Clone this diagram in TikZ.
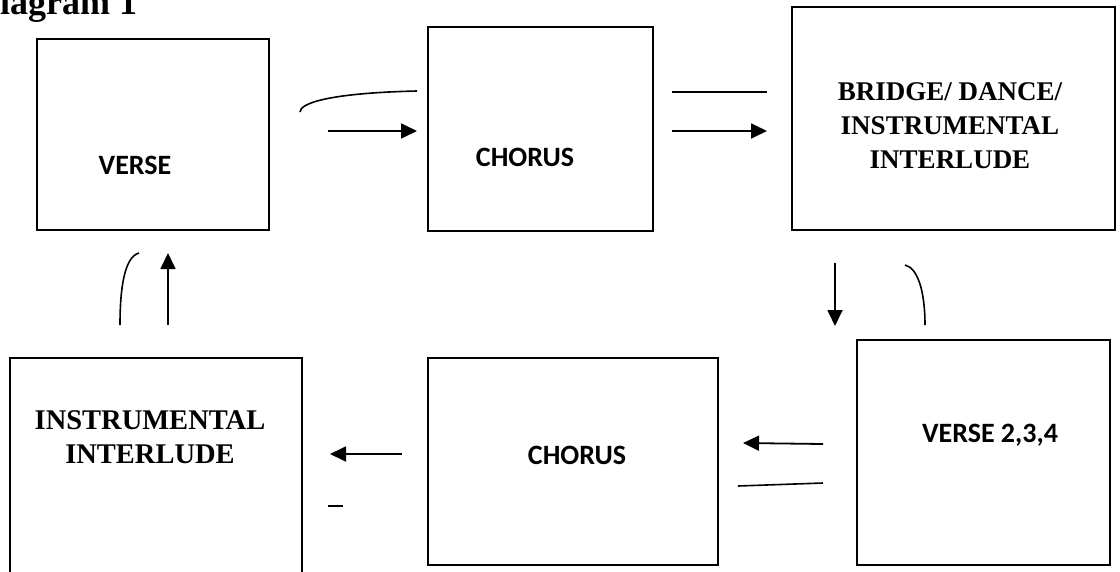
\documentclass[tikz,border=0pt]{standalone}
\usepackage{fontspec}
\setmainfont{Liberation Serif}
\newfontfamily\calfont{Carlito}
\usetikzlibrary{arrows.meta}
\tikzset{
  box/.style={draw, line width=2.4pt, inner sep=0pt},
  arr/.style={line width=1.8pt, -{Triangle[length=16pt,width=15pt]}},
  ln/.style={line width=1.6pt},
  caltext/.style={font=\calfont\bfseries\fontsize{28}{33}\selectfont, inner sep=0pt},
  sertext/.style={font=\bfseries\fontsize{27}{34}\selectfont, align=center, inner sep=0pt},
  sertextb/.style={font=\bfseries\fontsize{28.5}{34}\selectfont, align=center, inner sep=0pt}
}
\begin{document}
\begin{tikzpicture}[x=1pt,y=-1pt]
\useasboundingbox (0,0) rectangle (1120,571);
\clip (0,0) rectangle (1120,571);
% title
\node[font=\bfseries\fontsize{36}{40}\selectfont, anchor=base west, inner sep=0pt] (title) at (-26,14) {Diagram 1};
% boxes
\node[box, minimum width=232pt, minimum height=191pt] (verse) at (153,134.5) {};
\node[box, minimum width=225pt, minimum height=204pt] (chorusA) at (540.5,129) {};
\node[box, minimum width=323pt, minimum height=223pt] (bridge) at (953.5,118.5) {};
\node[box, minimum width=253pt, minimum height=225pt] (verseB) at (983.5,452.5) {};
\node[box, minimum width=290pt, minimum height=207pt] (chorusB) at (573,461.5) {};
\node[box, minimum width=292pt, minimum height=240pt] (instr) at (156,478) {};
% texts
\node[caltext] (tverse) at (135,165) {VERSE};
\node[caltext] (tchorusA) at (525,157) {CHORUS};
\node[sertext] (tbridge) at (950,126) {BRIDGE/ DANCE/\\INSTRUMENTAL\\INTERLUDE};
\node[sertextb] (tinstr) at (150,437) {INSTRUMENTAL\\INTERLUDE};
\node[caltext] (tchorusB) at (577,455) {CHORUS};
\node[caltext] (tverseB) at (990,435) {VERSE 2,3,4};
% connector end points
\coordinate (a1s) at (328,131);
\coordinate (a1e) at (417,131);
\coordinate (c1s) at (300,112);
\coordinate (c1e) at (417,91);
\coordinate (l2s) at (672,92);
\coordinate (l2e) at (767,92);
\coordinate (a2s) at (672,131);
\coordinate (a2e) at (767,131);
\coordinate (a3s) at (835,263);
\coordinate (a3e) at (835,326);
\coordinate (c3s) at (905,265);
\coordinate (c3e) at (925,325);
\coordinate (a4s) at (823,444);
\coordinate (a4e) at (743,443);
\coordinate (l4s) at (738,486);
\coordinate (l4e) at (823,483);
\coordinate (a5s) at (402,454);
\coordinate (a5e) at (330,454);
\coordinate (d5s) at (328,506);
\coordinate (d5e) at (343,506);
\coordinate (a6s) at (168,325);
\coordinate (a6e) at (168,253);
\coordinate (c6s) at (120,325);
\coordinate (c6e) at (139,253);
% connectors
\draw[arr] (a1s) -- (a1e);
\draw[ln] (c1s) .. controls (300,103) and (330,93) .. (c1e);
\draw[ln] (l2s) -- (l2e);
\draw[arr] (a2s) -- (a2e);
\draw[arr] (a3s) -- (a3e);
\draw[ln] (c3s) .. controls (918,268) and (925,292) .. (c3e);
\draw[arr] (a4s) -- (a4e);
\draw[ln] (l4s) -- (l4e);
\draw[ln] (d5s) -- (d5e);
\draw[arr] (a5s) -- (a5e);
\draw[arr] (a6s) -- (a6e);
\draw[ln] (c6s) .. controls (120,290) and (124,257) .. (c6e);
\end{tikzpicture}
\end{document}
